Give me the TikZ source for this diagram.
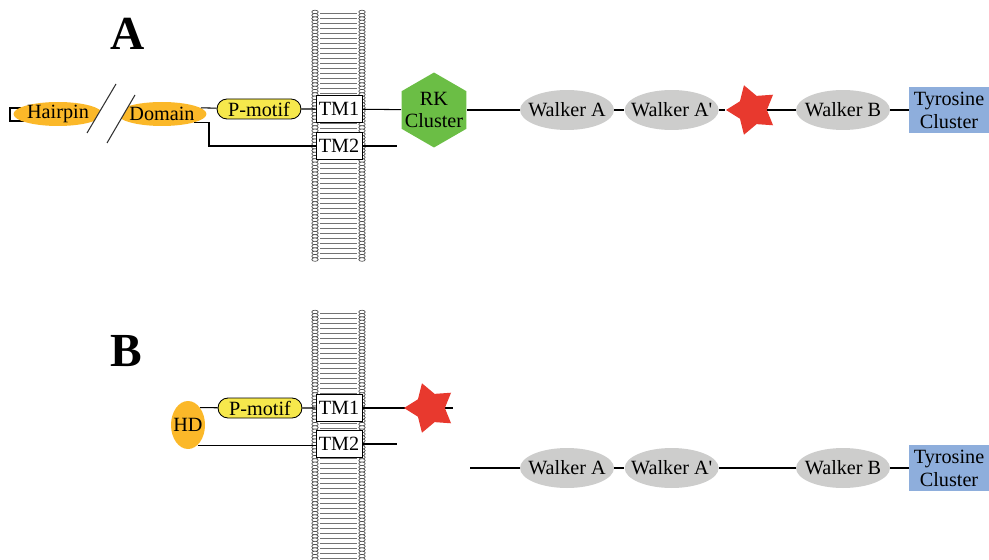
\documentclass[tikz,border=0pt]{standalone}
\usepackage{fontspec}
\setmainfont{Liberation Serif}
\usetikzlibrary{shapes.geometric}
\usetikzlibrary{shapes.misc}
\usetikzlibrary{positioning}

\definecolor{hporange}{HTML}{FBB829}
\definecolor{pyellow}{HTML}{F6E84C}
\definecolor{rkgreen}{HTML}{6BBE45}
\definecolor{walkgray}{HTML}{CDCDCC}
\definecolor{starred}{HTML}{E8392E}
\definecolor{tyrblue}{HTML}{8EAEDC}

\begin{document}
\begin{tikzpicture}[x=0.02cm,y=-0.02cm,font=\fontsize{11.5}{13}\selectfont,
  every node/.style={inner sep=0pt,align=center},
  big/.style={font=\fontsize{27}{30}\selectfont\bfseries},
  link/.style={line width=0.6pt},
  hpin/.style={ellipse,fill=hporange,minimum width=1.78cm,minimum height=0.48cm,label={center:#1}},
  hdnode/.style={ellipse,fill=hporange,minimum width=0.68cm,minimum height=0.96cm,label={center:#1}},
  pmot/.style={rounded rectangle,draw,line width=0.5pt,fill=pyellow,minimum width=1.68cm,minimum height=0.4cm},
  tmbox/.style={draw,fill=white,line width=0.5pt,minimum width=0.92cm,minimum height=0.54cm},
  rkhex/.style={regular polygon,regular polygon sides=6,shape border rotate=30,fill=rkgreen,minimum size=1.5cm,label={center:#1}},
  walker/.style={ellipse,fill=walkgray,minimum width=1.88cm,minimum height=0.8cm,label={center:#1}},
  starnode/.style={star,star points=5,star point ratio=1.75,shape border rotate=90,fill=starred,minimum size=1.04cm},
  tyr/.style={fill=tyrblue,minimum width=1.6cm,minimum height=0.92cm},
  bead/.style={draw=black!75,fill=white,line width=0.35pt},
  tail/.style={draw=black!55,line width=0.3pt}]
  \useasboundingbox (0,0) rectangle (989,560);

  % membranes
  \foreach \top/\bot in {10/262,310/560}{
    \foreach \k in {0,...,49}{
      \pgfmathsetmacro\yy{\top+3+\k*5}
      \draw[tail] (320,\yy) -- (357,\yy);
    }
    \foreach \k in {0,...,75}{
      \pgfmathsetmacro\yy{\top+2+\k*3.3}
      \draw[bead] (315,\yy) ellipse (0.065cm and 0.036cm);
      \draw[bead] (362,\yy) ellipse (0.065cm and 0.036cm);
    }
  }

  % panel A
  \node[big] (lblA) at (128,34) {A};
  \draw[link] (10,108) rectangle (30,121);
  \node[hpin=Hairpin] (hp) at (58,114) {};
  \node[hpin=Domain] (dom) at (162,114) {};
  \fill[white] (87,133) -- (116,84) -- (135,95) -- (107,143) -- cycle;
  \draw[link,black!80] (87,133) -- (116,84);
  \draw[link,black!80] (107,143) -- (135,95);
  \node[pmot] (pma) at (259,109) {P-motif};
  \node[tmbox] (tma1) at (339,109) {TM1};
  \node[tmbox] (tma2) at (339,146) {TM2};
  \node[rkhex={RK\\Cluster}] (rk) at (434,110) {};
  \node[walker=Walker A] (waA) at (567,110) {};
  \node[walker=Walker A\textquotesingle,right=0.2cm of waA] (wapA) {};
  \node[starnode] (stA) at (752,110) {};
  \node[walker=Walker B] (wbA) at (843,110) {};
  \node[tyr] (tyA) at (949,110) {Tyrosine\\Cluster};
  \coordinate (kA) at (209,146);
  \coordinate (endA) at (397,146);

  \draw[link] (dom.9) -- (pma);
  \draw[link] (dom.-15) -| (kA) -- (tma2);
  \draw[link] (pma) -- (tma1);
  \draw[link] (tma1) -- (rk);
  \draw[link] (tma2) -- (endA);
  \draw[link] (rk) -- (waA);
  \draw[link] (waA) -- (wapA);
  \draw[link] (wapA) -- (stA);
  \draw[link] (stA) -- (wbA);
  \draw[link] (wbA) -- (tyA);

  % panel B
  \node[big] (lblB) at (126,351) {B};
  \node[hdnode=HD] (hd) at (188,425) {};
  \node[pmot] (pmb) at (260,408) {P-motif};
  \node[tmbox] (tmb1) at (339,408) {TM1};
  \node[tmbox] (tmb2) at (339,444) {TM2};
  \coordinate (endB1) at (453,408);
  \coordinate (endB2) at (397,444);
  \draw[link] (tmb1) -- (endB1);
  \node[starnode] (stB) at (430,408) {};
  \coordinate (startB) at (470,468);
  \node[walker=Walker A] (waB) at (567,468) {};
  \node[walker=Walker A\textquotesingle,right=0.2cm of waB] (wapB) {};
  \node[walker=Walker B] (wbB) at (843,468) {};
  \node[tyr] (tyB) at (949,468) {Tyrosine\\Cluster};

  \draw[link] (hd.55) -- (pmb);
  \draw[link] (hd.-65) -- (hd.-65 -| tmb2.west);
  \draw[link] (pmb) -- (tmb1);
  \draw[link] (tmb2) -- (endB2);
  \draw[link] (startB) -- (waB);
  \draw[link] (waB) -- (wapB);
  \draw[link] (wapB) -- (wbB);
  \draw[link] (wbB) -- (tyB);
\end{tikzpicture}
\end{document}
